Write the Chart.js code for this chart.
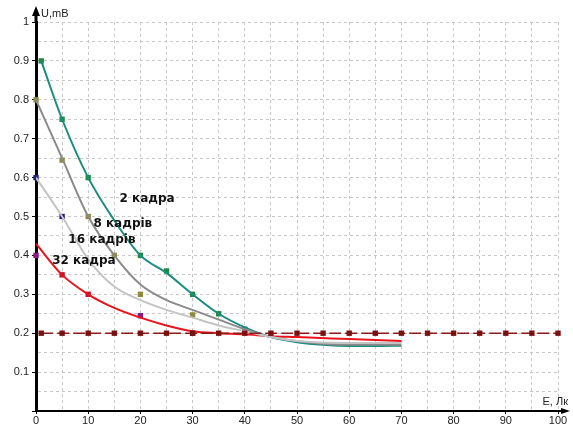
<!DOCTYPE html>
<html>
<head>
<meta charset="utf-8">
<script src="https://cdn.jsdelivr.net/npm/chart.js@4.4.1/dist/chart.umd.min.js"></script>
<style>
html, body { margin: 0; padding: 0; background: #fff; }
#wrap { width: 573px; height: 425px; }
</style>
</head>
<body>
<div id="wrap"><canvas id="myChart"></canvas></div>
<script>
// curves (E in lux, U in mV)
const x2 = [1, 5, 10, 15, 20, 25, 30, 35, 40, 45, 50, 55, 60, 65, 70];
const u2 = [0.9, 0.75, 0.6, 0.49, 0.4, 0.355, 0.3, 0.25, 0.215, 0.19, 0.177, 0.17, 0.167, 0.167, 0.168];

const x8 = [0, 5, 10, 15, 20, 25, 30, 35, 40, 45, 50, 55, 60, 65, 70];
const u8 = [0.8, 0.65, 0.5, 0.4, 0.325, 0.285, 0.26, 0.235, 0.21, 0.19, 0.18, 0.173, 0.17, 0.17, 0.17];

const x16 = [0, 5, 10, 15, 20, 25, 30, 35, 40, 45, 50, 60, 70];
const u16 = [0.6, 0.5, 0.39, 0.32, 0.285, 0.26, 0.24, 0.22, 0.205, 0.19, 0.18, 0.175, 0.175];

const x32 = [0, 5, 10, 15, 20, 25, 30, 35, 40, 45, 50, 60, 70];
const u32 = [0.43, 0.35, 0.3, 0.265, 0.24, 0.22, 0.205, 0.2, 0.197, 0.192, 0.19, 0.185, 0.18];

// measured points
const mx2 = [1, 5, 10, 20, 25, 30, 35];
const mu2 = [0.9, 0.75, 0.6, 0.4, 0.36, 0.3, 0.25];
const mx8 = [0, 5, 10, 15, 20, 30];
const mu8 = [0.8, 0.645, 0.5, 0.4, 0.3, 0.247];
const mx16 = [0, 5, 40];
const mu16 = [0.6, 0.5, 0.21];
const mx32a = [0, 20, 30];
const mu32a = [0.4, 0.245, 0.2];
const mx32b = [5, 10];
const mu32b = [0.35, 0.3];

// 0.2 mV level
const xLevel = [1, 5, 10, 15, 20, 25, 30, 35, 40, 45, 50, 55, 60, 65, 70, 75, 80, 85, 90, 95, 100];
const uLevel = 0.2;

const curveNames = ['2 кадра', '8 кадрів', '16 кадрів', '32 кадра'];
const labelX = [16, 11, 6.2, 3.1];
const labelY = [0.545, 0.48, 0.44, 0.385];

function pts(xs, ys) {
    return xs.map(function(x, i) { return { x: x, y: ys[i] }; });
}

function curve(xs, ys, color) {
    return {
        data: pts(xs, ys),
        borderColor: color,
        borderWidth: 2,
        pointRadius: 0,
        cubicInterpolationMode: 'monotone',
        fill: false
    };
}

function marks(xs, ys, color) {
    return {
        data: pts(xs, ys),
        showLine: false,
        clip: false,
        pointStyle: 'rect',
        pointRadius: 3.8,
        backgroundColor: color,
        borderColor: color,
        borderWidth: 0
    };
}

const extras = {
    id: 'extras',
    afterDatasetsDraw(chart) {
        const ctx = chart.ctx;
        const xs = chart.scales.x, ys = chart.scales.y;
        const a = chart.chartArea;
        ctx.save();
        // axis arrows
        ctx.strokeStyle = '#000';
        ctx.fillStyle = '#000';
        ctx.lineWidth = 3;
        ctx.beginPath();
        ctx.moveTo(a.left, a.top);
        ctx.lineTo(a.left, a.top - 10);
        ctx.stroke();
        ctx.beginPath();
        ctx.moveTo(a.left, a.top - 16);
        ctx.lineTo(a.left - 4, a.top - 6);
        ctx.lineTo(a.left + 4, a.top - 6);
        ctx.closePath();
        ctx.fill();
        ctx.lineWidth = 2;
        ctx.beginPath();
        ctx.moveTo(a.right, a.bottom);
        ctx.lineTo(a.right + 6, a.bottom);
        ctx.stroke();
        ctx.beginPath();
        ctx.moveTo(a.right + 12, a.bottom);
        ctx.lineTo(a.right + 3, a.bottom - 3);
        ctx.lineTo(a.right + 3, a.bottom + 3);
        ctx.closePath();
        ctx.fill();
        // axis titles
        ctx.font = '11px "Liberation Sans", Arial, sans-serif';
        ctx.fillStyle = '#222';
        ctx.textBaseline = 'middle';
        ctx.textAlign = 'left';
        ctx.fillText('U,mB', a.left + 5, 14);
        ctx.textAlign = 'right';
        ctx.fillText('E, Лк', a.right + 10, a.bottom - 9);
        // curve labels
        ctx.font = 'bold 12px "DejaVu Sans", sans-serif';
        ctx.fillStyle = '#111';
        ctx.textAlign = 'left';
        curveNames.forEach(function(t, i) {
            ctx.fillText(t, xs.getPixelForValue(labelX[i]), ys.getPixelForValue(labelY[i]));
        });
        ctx.restore();
    }
};

const ctx = document.getElementById('myChart');
const myChart = new Chart(ctx, {
    type: 'line',
    data: {
        datasets: [
            {
                data: xLevel.map(function(x) { return { x: x, y: uLevel }; }),
                borderColor: '#8b1a1a',
                borderWidth: 1.5,
                borderDash: [12, 4],
                clip: false,
                pointStyle: 'rect',
                pointRadius: 3.8,
                backgroundColor: '#7a1010',
                pointBorderWidth: 0,
                tension: 0
            },
            curve(x16, u16, '#c4c4c4'),
            curve(x8, u8, '#8a8a8a'),
            curve(x2, u2, '#1a8c80'),
            curve(x32, u32, '#e8141c'),
            marks(mx2, mu2, '#1f8a3f'),
            marks(mx8, mu8, '#8c8c3c'),
            marks(mx16, mu16, '#20207a'),
            marks(mx32a, mu32a, '#8a1a8a'),
            marks(mx32b, mu32b, '#c0102a')
        ]
    },
    options: {
        animation: false,
        responsive: true,
        maintainAspectRatio: false,
        layout: { padding: { top: 22, right: 15, left: 0, bottom: 0 } },
        plugins: {
            legend: { display: false },
            tooltip: { enabled: false }
        },
        scales: {
            x: {
                type: 'linear',
                min: 0,
                max: 100,
                afterFit: function(s) { s.height = 14; },
                ticks: {
                    stepSize: 5,
                    padding: 0,
                    maxRotation: 0,
                    autoSkip: false,
                    color: '#222',
                    font: { size: 11, family: '"Liberation Sans", Arial, sans-serif' },
                    callback: function(v) { return v % 10 === 0 ? String(v) : ''; }
                },
                grid: {
                    color: '#c8c8c8',
                    lineWidth: 1,
                    tickLength: 3,
                    tickColor: function(c) { return c.tick && c.tick.value % 10 === 0 ? '#000' : 'rgba(0,0,0,0)'; }
                },
                border: { color: '#000', width: 2, dash: [3, 3] }
            },
            y: {
                type: 'linear',
                min: 0,
                max: 1,
                afterFit: function(s) { s.width = 36; },
                ticks: {
                    stepSize: 0.05,
                    padding: 3,
                    autoSkip: false,
                    color: '#222',
                    font: { size: 11, family: '"Liberation Sans", Arial, sans-serif' },
                    callback: function(v) {
                        const r = Math.round(v * 100);
                        if (r === 0 || r % 10 !== 0) return '';
                        return r === 100 ? '1' : (r / 100).toFixed(1);
                    }
                },
                grid: {
                    color: '#c8c8c8',
                    lineWidth: 1,
                    tickLength: 4,
                    tickColor: function(c) { return c.tick && Math.round(c.tick.value * 100) % 10 === 0 ? '#000' : 'rgba(0,0,0,0)'; }
                },
                border: { color: '#000', width: 3, dash: [3, 3] }
            }
        }
    },
    plugins: [extras]
});
</script>
</body>
</html>
